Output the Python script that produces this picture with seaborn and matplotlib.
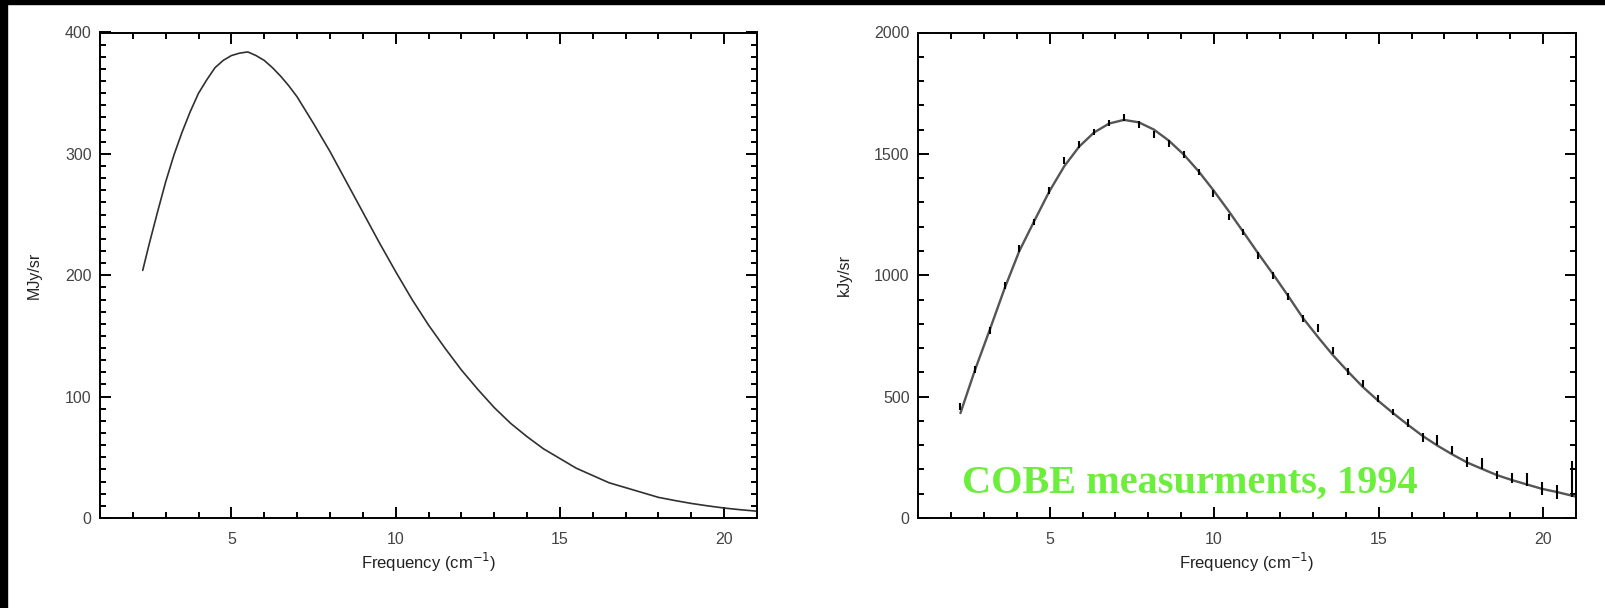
import matplotlib
matplotlib.use("Agg")
import matplotlib.pyplot as plt
import seaborn as sns
import numpy as np
from matplotlib.patches import Rectangle
from matplotlib.ticker import MultipleLocator

# Left panel : blackbody curve (MJy/sr)
freq_bb = [2.3, 2.5, 2.75, 3.0, 3.25, 3.5, 3.75, 4.0, 4.25, 4.5, 4.75, 5.0, 5.25,
           5.5, 5.75, 6.0, 6.25, 6.5, 6.75, 7.0, 7.5, 8.0, 8.5, 9.0, 9.5, 10.0,
           10.5, 11.0, 11.5, 12.0, 12.5, 13.0, 13.5, 14.0, 14.5, 15.0, 15.5,
           16.0, 16.5, 17.0, 17.5, 18.0, 18.5, 19.0, 19.5, 20.0, 20.5, 21.0]
flux_bb = [204, 226, 252, 277, 299, 318, 335, 350, 361, 371, 377, 381, 383,
           384, 381, 377, 371, 364, 356, 347, 325, 302, 277, 252, 227, 203,
           180, 159, 140, 122, 106, 91, 78, 67, 57, 49, 41,
           35, 29, 25, 21, 17, 14.4, 12, 10, 8.2, 6.8, 5.6]

# Right panel : COBE points (kJy/sr) + fitted curve
freq_cobe = [2.27, 2.72, 3.18, 3.63, 4.08, 4.54, 4.99, 5.45, 5.90, 6.35, 6.81,
             7.26, 7.71, 8.17, 8.62, 9.08, 9.53, 9.98, 10.44, 10.89, 11.34, 11.80,
             12.25, 12.71, 13.16, 13.61, 14.07, 14.52, 14.97, 15.43, 15.88, 16.34,
             16.79, 17.24, 17.70, 18.15, 18.61, 19.06, 19.51, 19.97, 20.42, 20.87]
flux_cobe = [458, 612, 774, 959, 1110, 1219, 1350, 1473, 1538, 1590, 1627,
             1649, 1621, 1579, 1542, 1497, 1425, 1336, 1240, 1178, 1082, 1000,
             914, 822, 783, 691, 602, 554, 492, 437, 392, 332,
             321, 280, 232, 225, 177, 166, 159, 122, 108, 160]
err_cobe = [14, 14, 14, 14, 14, 14, 14, 14, 14, 14, 14,
            14, 14, 14, 14, 14, 14, 14, 14, 14, 14, 14,
            14, 14, 16, 14, 14, 16, 14, 14, 16, 18,
            22, 18, 20, 24, 18, 20, 26, 27, 30, 75]
freq_fit = [2.29, 2.72, 3.18, 3.63, 4.08, 4.54, 4.99, 5.45, 5.90, 6.35, 6.81,
            7.26, 7.71, 8.17, 8.62, 9.08, 9.53, 9.98, 10.44, 10.89, 11.34, 11.80,
            12.25, 12.71, 13.16, 13.61, 14.07, 14.52, 14.97, 15.43, 15.88, 16.34,
            16.79, 17.24, 17.70, 18.15, 18.61, 19.06, 19.51, 19.97, 20.42, 21.0]
flux_fit = [432, 605, 775, 945, 1100, 1225, 1345, 1450, 1530, 1588, 1625,
            1640, 1630, 1600, 1555, 1497, 1428, 1350, 1265, 1178, 1090, 1003,
            915, 822, 745, 671, 603, 540, 485, 433, 385, 338,
            298, 262, 228, 202, 176, 156, 138, 120, 107, 88]

sns.set_style("ticks")
plt.rcParams['font.family'] = ['Liberation Sans', 'DejaVu Sans']
plt.rcParams['axes.linewidth'] = 1.4

fig = plt.figure(figsize=(16.05, 6.08), dpi=100)
fig.patch.set_facecolor("white")

ax1 = fig.add_axes([100/1605, 90/608, 657/1605, 485.5/608])
ax2 = fig.add_axes([918/1605, 90/608, 658/1605, 485.5/608])

txtcol = "#444444"

def FormatAxe(ax, ymax, ymajor, yminor, ylabel, labx):
    ax.set_xlim(1, 21)
    ax.set_ylim(0, ymax)
    ax.xaxis.set_major_locator(MultipleLocator(5))
    ax.xaxis.set_minor_locator(MultipleLocator(1))
    ax.yaxis.set_major_locator(MultipleLocator(ymajor))
    ax.yaxis.set_minor_locator(MultipleLocator(yminor))
    ax.tick_params(which="both", direction="in", top=True, right=True,
                   width=1.4, color="black", labelcolor=txtcol, labelsize=11.5)
    ax.tick_params(which="major", length=8)
    ax.tick_params(which="minor", length=4)
    ax.tick_params(axis="x", which="major", pad=10)
    ax.tick_params(axis="y", which="major", pad=6)
    for s in ax.spines.values():
        s.set_visible(True)
        s.set_color("black")
    ax.set_xlabel("Frequency (cm$^{-1}$)", fontsize=12, color="#222222", labelpad=3)
    ax.set_ylabel(ylabel, fontsize=11.5, color="#222222")
    ax.yaxis.set_label_coords(labx, 0.5)

# panneau gauche
sns.lineplot(x=freq_bb, y=flux_bb, ax=ax1, color="#303030", linewidth=1.2)
FormatAxe(ax1, 400, 100, 10, "MJy/sr", -0.088)

# panneau droit
sns.lineplot(x=freq_fit, y=flux_fit, ax=ax2, color="#555555", linewidth=1.7)
ax2.errorbar(freq_cobe, flux_cobe, yerr=err_cobe, fmt="none",
             ecolor="black", elinewidth=1.5, capsize=0, clip_on=True)
FormatAxe(ax2, 2000, 500, 100, "kJy/sr", -0.100)

ax2.text(0.067, 0.051, "COBE measurments, 1994", transform=ax2.transAxes,
         fontsize=29, fontweight="bold", color="#6cee3c",
         family=["Liberation Serif", "DejaVu Serif"])

# bandes noires (bord de la capture)
fig.add_artist(Rectangle((0, 0), 7/1605, 1, transform=fig.transFigure,
                         color="black", zorder=10))
fig.add_artist(Rectangle((0, 1 - 4/608), 1, 4/608, transform=fig.transFigure,
                         color="black", zorder=10))

plt.savefig("out.png", dpi=100, facecolor="white")
